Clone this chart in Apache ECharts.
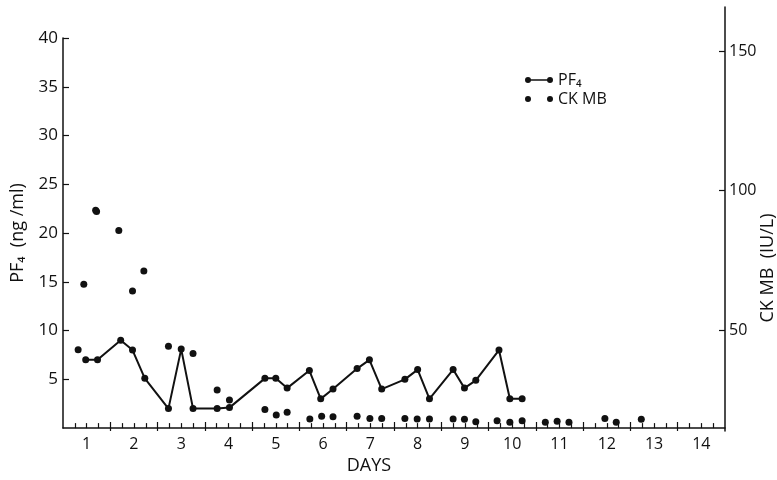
<!DOCTYPE html>
<html>
<head>
<meta charset="utf-8">
<script src="https://cdn.jsdelivr.net/npm/echarts@6/dist/echarts.min.js"></script>
<style>
html,body{margin:0;padding:0;background:#fff;}
#chart{width:777px;height:480px;}
</style>
</head>
<body>
<div id="chart"></div>
<script>
// PF4 (ng/ml), left axis
var pf4Days = [0.98,1.23,1.72,1.97,2.23,2.73,3.0,3.25,3.76,4.02,4.77,5.0,5.24,5.71,5.95,6.21,6.72,6.98,7.24,7.73,8.0,8.25,8.75,8.99,9.23,9.72,9.95,10.21];
var pf4Values = [7,7,9,8,5.1,2,8.1,2,2,2.1,5.1,5.1,4.1,5.9,3,4,6.1,7,4,5,6,3,6,4.1,4.9,8,3,3];
// CK MB (IU/L), right axis
var ckDays = [0.82,0.94,1.19,1.21,1.68,1.97,2.21,2.73,3.25,3.76,4.02,4.77,5.01,5.24,5.72,5.97,6.21,6.72,6.99,7.24,7.73,7.99,8.25,8.75,8.99,9.23,9.68,9.95,10.21,10.7,10.95,11.2,11.96,12.2,12.73];
var ckValues = [43,66.5,93,92.5,85.7,64.1,71.2,44.3,41.7,28.6,25,21.6,19.6,20.6,18.2,19.2,19,19.2,18.4,18.4,18.4,18.2,18.2,18.2,18.1,17.2,17.6,17,17.6,17,17.4,17,18.4,17,18.1];
// tick labels
var dayLabels = [1,2,3,4,5,6,7,8,9,10,11,12,13,14];
var leftTicks = [5,10,15,20,25,30,35,40];
var rightTicks = [50,100,150];

var quarterTicks = [];
var halfTicks = [];
for (var d = 0.75; d < 14.5; d += 0.25) {
  if (Math.abs((d % 1) - 0.5) < 1e-6) halfTicks.push(d); else quarterTicks.push(d);
}

var FONT = 'Open Sans';
var INK = '#111';

function zip(a, b) { return a.map(function (v, i) { return [v, b[i]]; }); }

var DOT_L = 'M0,3a3,3 0 1,0 6,0a3,3 0 1,0 -6,0Z';
var DOT_R = 'M22,3a3,3 0 1,0 6,0a3,3 0 1,0 -6,0Z';
var BAR = 'M5,2.3L5,3.7L23,3.7L23,2.3Z';

var chart = echarts.init(document.getElementById('chart'));
chart.setOption({
  animation: false,
  backgroundColor: '#fff',
  textStyle: { fontFamily: FONT, color: INK },
  grid: [
    { left: 63, right: 52, top: 38, bottom: 49 },
    { left: 63, right: 52, top: 7, bottom: 49 }
  ],
  legend: {
    orient: 'vertical',
    left: 520,
    top: 67,
    itemWidth: 28,
    itemHeight: 6,
    itemGap: 3,
    itemStyle: { color: INK, borderWidth: 0, opacity: 1 },
    textStyle: { fontFamily: FONT, fontSize: 16, color: INK },
    data: [
      { name: 'PF₄', icon: 'path://' + DOT_L + ' ' + DOT_R + ' ' + BAR, itemStyle: { color: INK, borderWidth: 0 } },
      { name: 'CK MB', icon: 'path://' + DOT_L + ' ' + DOT_R, itemStyle: { color: INK, borderWidth: 0 } }
    ]
  },
  xAxis: [
    {
      type: 'value', gridIndex: 0, min: 0.5, max: 14.5,
      name: 'DAYS', nameLocation: 'middle', nameGap: 27,
      nameTextStyle: { fontFamily: FONT, fontSize: 18, color: INK, padding: [0, 50, 0, 0] },
      axisLine: { show: true, lineStyle: { color: INK, width: 1.5 } },
      axisTick: { show: true, inside: true, length: 5, customValues: quarterTicks, lineStyle: { color: INK, width: 1.2 } },
      axisLabel: { customValues: dayLabels, fontFamily: FONT, fontSize: 16, color: INK, margin: 8 },
      splitLine: { show: false }
    },
    {
      type: 'value', gridIndex: 1, min: 0.5, max: 14.5,
      axisLine: { show: false },
      axisTick: { show: true, inside: true, length: 9, customValues: halfTicks, lineStyle: { color: INK, width: 1.2 } },
      axisLabel: { show: false },
      splitLine: { show: false }
    }
  ],
  yAxis: [
    {
      type: 'value', gridIndex: 0, min: 0, max: 40, position: 'left',
      name: 'PF₄  (ng /ml)', nameLocation: 'middle', nameGap: 36, nameRotate: 90,
      nameTextStyle: { fontFamily: FONT, fontSize: 18, color: INK },
      axisLine: { show: true, lineStyle: { color: INK, width: 1.5 } },
      axisTick: { show: true, inside: true, length: 6, customValues: leftTicks, lineStyle: { color: INK, width: 1.2 } },
      axisLabel: { customValues: leftTicks, fontFamily: FONT, fontSize: 17, color: INK, margin: 5 },
      splitLine: { show: false }
    },
    {
      type: 'value', gridIndex: 1, min: 13.9, max: 165.8, position: 'right',
      axisLine: { show: true, lineStyle: { color: INK, width: 1.5 } },
      axisTick: { show: true, inside: true, length: 6, customValues: rightTicks, lineStyle: { color: INK, width: 1.2 } },
      axisLabel: { customValues: rightTicks, fontFamily: FONT, fontSize: 16, color: INK, margin: 4 },
      splitLine: { show: false }
    }
  ],
  graphic: [
    {
      type: 'text', x: 768, y: 268, rotation: Math.PI / 2,
      style: { text: 'CK MB  (IU/L)', fontFamily: FONT, fontSize: 18, fill: INK, align: 'center', verticalAlign: 'middle' }
    }
  ],
  series: [
    {
      name: 'PF₄', type: 'line', xAxisIndex: 0, yAxisIndex: 0,
      data: zip(pf4Days, pf4Values),
      symbol: 'circle', symbolSize: 7,
      lineStyle: { color: INK, width: 2 },
      itemStyle: { color: INK, opacity: 1 },
      z: 3
    },
    {
      name: 'CK MB', type: 'scatter', xAxisIndex: 1, yAxisIndex: 1,
      data: zip(ckDays, ckValues),
      symbol: 'circle', symbolSize: 7,
      itemStyle: { color: INK, opacity: 1 },
      z: 4
    }
  ]
});
</script>
</body>
</html>
